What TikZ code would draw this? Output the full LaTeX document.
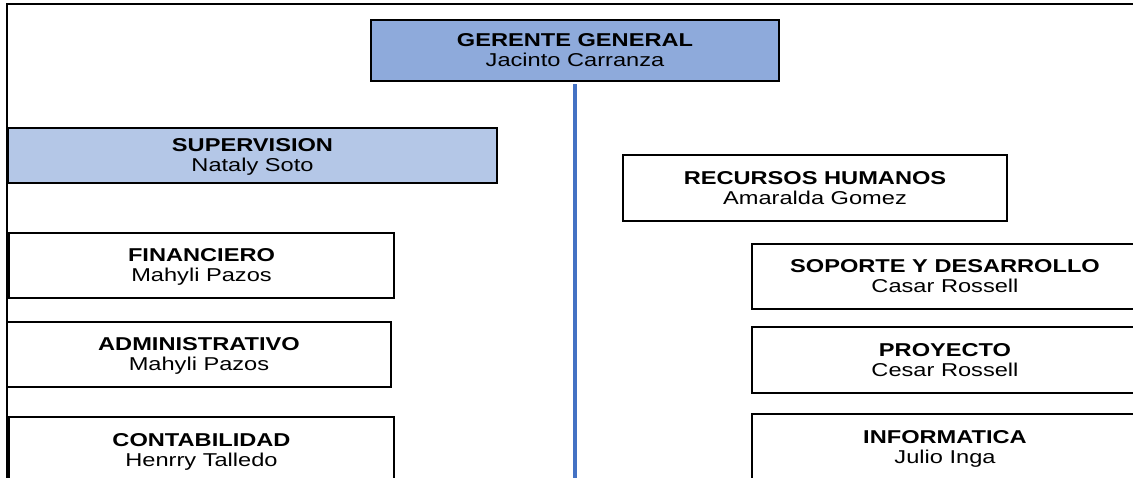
\documentclass[tikz,border=0pt]{standalone}
\usepackage{fontspec}
\setmainfont[FakeStretch=1.27]{Liberation Sans}
\usetikzlibrary{positioning}

\definecolor{jefeblue}{HTML}{8EAADB}
\definecolor{supblue}{HTML}{B4C7E7}
\definecolor{lineblue}{HTML}{4472C4}

\begin{document}
\begin{tikzpicture}[x=1pt, y=-1pt,
                        every node/.style={rectangle, draw, line width=2pt, inner sep=0pt, align=center,
                                           text depth=0pt, font=\fontsize{18.6}{20}\selectfont},
                    ]

    % Define custom style for the boxes
    \tikzset{
        area box/.style n args={2}{
            minimum width=#1, minimum height=#2
        }
    }

    \useasboundingbox (0,0) rectangle (1133,477);
    \clip (0,0) rectangle (1133,477);

    % page frame
    \draw[line width=1.5pt] (7,490) -- (7,4) -- (1140,4);

    % First row of nodes
    \node[area box={408pt}{61pt}, fill=jefeblue] (GG) at (575, 50.5) {\textbf{GERENTE GENERAL}\\Jacinto Carranza};

    % Second row of nodes
    \node[area box={489pt}{55pt}, fill=supblue] (SUP) at (252.5, 155.5) {\textbf{SUPERVISION}\\Nataly Soto};
    \node[area box={384pt}{66pt}] (RH) at (815, 188) {\textbf{RECURSOS HUMANOS}\\Amaralda Gomez};

    % Left column
    \node[area box={385pt}{65pt}] (FIN) at (201.5, 265.5) {\textbf{FINANCIERO}\\Mahyli Pazos};
    \node[area box={384pt}{65pt}] (ADM) at (199, 354.5) {\textbf{ADMINISTRATIVO}\\Mahyli Pazos};
    \node[area box={385pt}{66pt}] (CON) at (201.5, 450) {\textbf{CONTABILIDAD}\\Henrry Talledo};

    % Right column
    \node[area box={386pt}{65pt}] (SOP) at (945, 276.5) {\textbf{SOPORTE Y DESARROLLO}\\Casar Rossell};
    \node[area box={386pt}{66pt}] (PRO) at (945, 360) {\textbf{PROYECTO}\\Cesar Rossell};
    \node[area box={386pt}{66pt}] (INF) at (945, 447) {\textbf{INFORMATICA}\\Julio Inga};

    % Main line
    \coordinate (L1) at (575, 490);
    \draw[lineblue, line width=4pt, shorten <=2pt] (GG) -- (L1);

\end{tikzpicture}
\end{document}
